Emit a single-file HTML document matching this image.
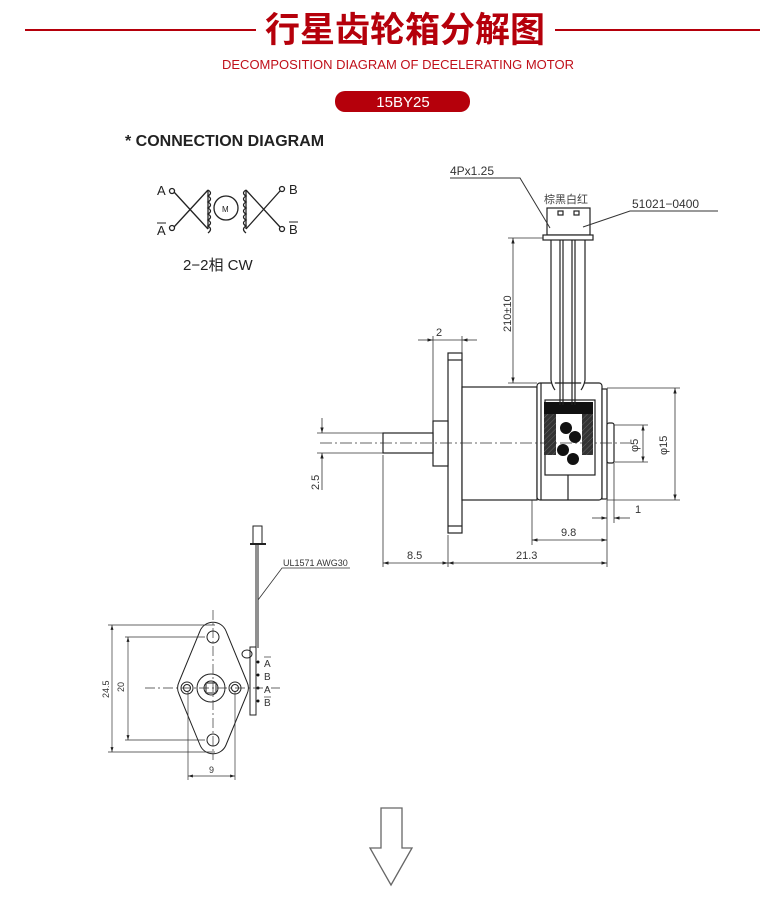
<!DOCTYPE html>
<html><head><meta charset="utf-8"><style>
html,body{margin:0;padding:0;background:#fff;}
svg{display:block;}
text{font-family:"Liberation Sans","Noto Sans CJK SC",sans-serif;}
</style></head><body>
<svg width="780" height="901" viewBox="0 0 780 901" xmlns="http://www.w3.org/2000/svg">
<defs>
<marker id="ar" viewBox="0 0 10 10" refX="10" refY="5" markerWidth="7" markerHeight="7" orient="auto-start-reverse"><path d="M0,2 L10,5 L0,8 z" fill="#222"/></marker>
<pattern id="hatch" width="4" height="4" patternUnits="userSpaceOnUse" patternTransform="rotate(45)"><rect width="4" height="4" fill="#333"/><line x1="0" y1="0" x2="0" y2="4" stroke="#666" stroke-width="1"/></pattern>
</defs>
<!-- header -->
<line x1="25" y1="30" x2="256" y2="30" stroke="#b5000b" stroke-width="2"/>
<line x1="555" y1="30" x2="760" y2="30" stroke="#b5000b" stroke-width="2"/>
<text x="405" y="42" font-size="35" font-weight="bold" fill="#b5000b" text-anchor="middle">行星齿轮箱分解图</text>
<text x="398" y="69" font-size="13" fill="#c0101a" text-anchor="middle">DECOMPOSITION DIAGRAM OF DECELERATING MOTOR</text>
<rect x="335" y="91" width="135" height="21" rx="10" fill="#b5000b"/>
<text x="403" y="107" font-size="15" fill="#fff" text-anchor="middle">15BY25</text>
<!-- connection diagram -->
<text x="125" y="146" font-size="16" font-weight="bold" fill="#222">* CONNECTION  DIAGRAM</text>
<g stroke="#222" stroke-width="1.3" fill="none">
<circle cx="172" cy="191" r="2.5"/><circle cx="172" cy="228" r="2.5"/>
<line x1="174" y1="192" x2="208" y2="229"/><line x1="174" y1="227" x2="208" y2="190"/>
<line x1="208" y1="190" x2="208" y2="229"/>
<path d="M208,190 q5,3 0,6 q5,3 0,6 q5,3 0,6 q5,3 0,6 q5,3 0,6 q5,3 0,6 q5,3 0,7"/>
<circle cx="226" cy="208" r="12"/>
<line x1="246" y1="190" x2="246" y2="229"/>
<path d="M246,190 q-5,3 0,6 q-5,3 0,6 q-5,3 0,6 q-5,3 0,6 q-5,3 0,6 q-5,3 0,6 q-5,3 0,7"/>
<line x1="246" y1="190" x2="280" y2="227"/><line x1="246" y1="229" x2="280" y2="191"/>
<circle cx="282" cy="189" r="2.5"/><circle cx="282" cy="229" r="2.5"/>
</g>
<text x="222" y="212" font-size="8" fill="#222">M</text>
<text x="157" y="195" font-size="13" fill="#222">A</text>
<text x="157" y="235" font-size="13" fill="#222">A</text><line x1="157" y1="223" x2="166" y2="223" stroke="#222"/>
<text x="289" y="194" font-size="13" fill="#222">B</text>
<text x="289" y="234" font-size="13" fill="#222">B</text><line x1="289" y1="222" x2="298" y2="222" stroke="#222"/>
<text x="183" y="270" font-size="15" fill="#222">2−2相  CW</text>

<!-- side view -->
<g stroke="#222" stroke-width="1.2" fill="#fff">
<rect x="448" y="353" width="14" height="180"/>
<line x1="448" y1="360" x2="462" y2="360"/><line x1="448" y1="526" x2="462" y2="526"/>
<rect x="462" y="387" width="75" height="113"/>
<rect x="433" y="421" width="15" height="45"/>
<rect x="383" y="433" width="50" height="20"/>
<rect x="537" y="383" width="65" height="117" rx="3"/>
<line x1="541" y1="383" x2="541" y2="500"/>
<rect x="602" y="389" width="5" height="110"/>
<rect x="607" y="423" width="7" height="40" rx="2"/>
<rect x="545" y="400" width="50" height="75"/>
<line x1="568" y1="475" x2="568" y2="500"/>
</g>
<rect x="544" y="402" width="49" height="53" fill="url(#hatch)"/>
<rect x="544" y="402" width="49" height="12" fill="#111"/>
<path d="M556,414 L556,455 L582,455 L582,414 Z" fill="#fff"/>
<g fill="#111"><circle cx="566" cy="428" r="6"/><circle cx="575" cy="437" r="6"/><circle cx="563" cy="450" r="6"/><circle cx="573" cy="459" r="6"/></g>
<!-- connector and wires -->
<g stroke="#222" stroke-width="1.2" fill="#fff">
<rect x="547" y="208" width="43" height="27"/>
<rect x="543" y="235" width="50" height="5"/>
<rect x="558" y="211" width="5" height="4"/><rect x="574" y="211" width="5" height="4"/>
<path d="M551,240 L551,380 Q552,386 555,390"/><path d="M585,240 L585,380 Q584,386 581,390"/>
<line x1="560" y1="240" x2="560" y2="405"/><line x1="563" y1="240" x2="563" y2="405"/>
<line x1="572" y1="240" x2="572" y2="405"/><line x1="575" y1="240" x2="575" y2="405"/>
</g>
<text x="544" y="203" font-size="11" fill="#444">棕黑白红</text>
<text x="450" y="175" font-size="12" fill="#333">4Px1.25</text>
<polyline points="450,178 520,178 550,228" fill="none" stroke="#333"/>
<text x="632" y="208" font-size="12" fill="#333">51021−0400</text>
<polyline points="718,211 630,211 583,227" fill="none" stroke="#333"/>
<!-- centerline -->
<line x1="320" y1="443" x2="630" y2="443" stroke="#333" stroke-width="0.8" stroke-dasharray="12,3,2,3"/>
<g stroke="#333" stroke-width="0.8" fill="none">
<!-- 210 dim -->
<line x1="508" y1="238" x2="543" y2="238"/><line x1="508" y1="383" x2="537" y2="383"/>
<line x1="513" y1="238" x2="513" y2="383" marker-start="url(#ar)" marker-end="url(#ar)"/>
<!-- 2 dim -->
<line x1="433" y1="336" x2="433" y2="421"/><line x1="462" y1="336" x2="462" y2="353"/>
<line x1="418" y1="340" x2="433" y2="340" marker-end="url(#ar)"/><line x1="477" y1="340" x2="462" y2="340" marker-end="url(#ar)"/>
<line x1="433" y1="340" x2="462" y2="340"/>
<!-- phi15 -->
<line x1="607" y1="388" x2="680" y2="388"/><line x1="607" y1="500" x2="680" y2="500"/>
<line x1="675" y1="388" x2="675" y2="500" marker-start="url(#ar)" marker-end="url(#ar)"/>
<!-- phi5 -->
<line x1="614" y1="425" x2="648" y2="425"/><line x1="614" y1="462" x2="648" y2="462"/>
<line x1="643" y1="425" x2="643" y2="462" marker-start="url(#ar)" marker-end="url(#ar)"/>
<!-- 2.5 -->
<line x1="317" y1="433" x2="383" y2="433"/><line x1="317" y1="453" x2="383" y2="453"/>
<line x1="322" y1="418" x2="322" y2="433" marker-end="url(#ar)"/><line x1="322" y1="490" x2="322" y2="453" marker-end="url(#ar)"/>
<!-- bottom extension lines -->
<line x1="383" y1="455" x2="383" y2="567"/><line x1="448" y1="535" x2="448" y2="567"/>
<line x1="607" y1="500" x2="607" y2="567"/><line x1="532" y1="500" x2="532" y2="545"/>
<line x1="614" y1="463" x2="614" y2="523"/>
<!-- 1 -->
<line x1="592" y1="518" x2="607" y2="518" marker-end="url(#ar)"/><line x1="630" y1="518" x2="614" y2="518" marker-end="url(#ar)"/>
<!-- 9.8 -->
<line x1="532" y1="540" x2="607" y2="540" marker-start="url(#ar)" marker-end="url(#ar)"/>
<!-- 8.5, 21.3 -->
<line x1="383" y1="563" x2="448" y2="563" marker-start="url(#ar)" marker-end="url(#ar)"/>
<line x1="448" y1="563" x2="607" y2="563" marker-start="url(#ar)" marker-end="url(#ar)"/>
</g>
<g font-size="11" fill="#333">
<text x="436" y="336">2</text>
<text x="635" y="513">1</text>
<text x="561" y="536">9.8</text>
<text x="407" y="559">8.5</text>
<text x="516" y="559">21.3</text>
<text transform="translate(511,332) rotate(-90)">210±10</text>
<text transform="translate(667,455) rotate(-90)">φ15</text>
<text transform="translate(638,452) rotate(-90)">φ5</text>
<text transform="translate(319,490) rotate(-90)">2.5</text>
</g>

<!-- end view -->
<g stroke="#222" stroke-width="1" fill="none">
<path d="M200,631 A14,14 0 0 1 226,631 L247,682 A14,14 0 0 1 247,694 L226,745 A14,14 0 0 1 200,745 L179,694 A14,14 0 0 1 179,682 Z" fill="#fff"/>
<circle cx="213" cy="637" r="6"/><circle cx="213" cy="740" r="6"/>
<circle cx="187" cy="688" r="6"/><circle cx="187" cy="688" r="3.5"/>
<circle cx="235" cy="688" r="6"/><circle cx="235" cy="688" r="3.5"/>
<circle cx="211" cy="688" r="14"/><circle cx="211" cy="688" r="7"/>
<rect x="206" y="683" width="10" height="10"/>
<line x1="256" y1="545" x2="256" y2="648"/><line x1="258" y1="545" x2="258" y2="648"/>
<rect x="250" y="647" width="6" height="68" fill="#fff"/>
<ellipse cx="247" cy="654" rx="5" ry="4"/>
<rect x="253" y="526" width="9" height="18" fill="#fff"/>
<line x1="250" y1="544" x2="266" y2="544" stroke-width="2"/>
<polyline points="350,568 282,568 258,600" stroke="#333" stroke-width="0.8"/>
</g>
<g fill="#111"><circle cx="258" cy="662" r="1.5"/><circle cx="258" cy="675" r="1.5"/><circle cx="258" cy="688" r="1.5"/><circle cx="258" cy="701" r="1.5"/></g>
<g font-size="10" fill="#333">
<text x="264" y="667">A</text><line x1="264" y1="657" x2="271" y2="657" stroke="#333" stroke-width="0.7"/>
<text x="264" y="680">B</text>
<text x="264" y="693">A</text>
<text x="264" y="706">B</text><line x1="264" y1="697" x2="271" y2="697" stroke="#333" stroke-width="0.7"/>
<text x="283" y="566" font-size="9">UL1571  AWG30</text>
<text transform="translate(109,698) rotate(-90)" font-size="9">24.5</text>
<text transform="translate(124,692) rotate(-90)" font-size="9">20</text>
<text x="209" y="773" font-size="9">9</text>
</g>
<g stroke="#333" stroke-width="0.7" fill="none">
<line x1="213" y1="610" x2="213" y2="760" stroke-dasharray="10,3,2,3"/>
<line x1="145" y1="688" x2="280" y2="688" stroke-dasharray="10,3,2,3"/>
<line x1="108" y1="625" x2="215" y2="625"/><line x1="108" y1="752" x2="215" y2="752"/>
<line x1="112" y1="625" x2="112" y2="752" marker-start="url(#ar)" marker-end="url(#ar)"/>
<line x1="125" y1="637" x2="205" y2="637"/><line x1="125" y1="740" x2="205" y2="740"/>
<line x1="128" y1="637" x2="128" y2="740" marker-start="url(#ar)" marker-end="url(#ar)"/>
<line x1="188" y1="692" x2="188" y2="780"/><line x1="235" y1="692" x2="235" y2="780"/>
<line x1="188" y1="776" x2="235" y2="776" marker-start="url(#ar)" marker-end="url(#ar)"/>
</g>
<!-- arrow -->
<path d="M381,808 L402,808 L402,848 L412,848 L391,885 L370,848 L381,848 Z" fill="#fff" stroke="#666" stroke-width="1.3"/>
</svg>
</body></html>
